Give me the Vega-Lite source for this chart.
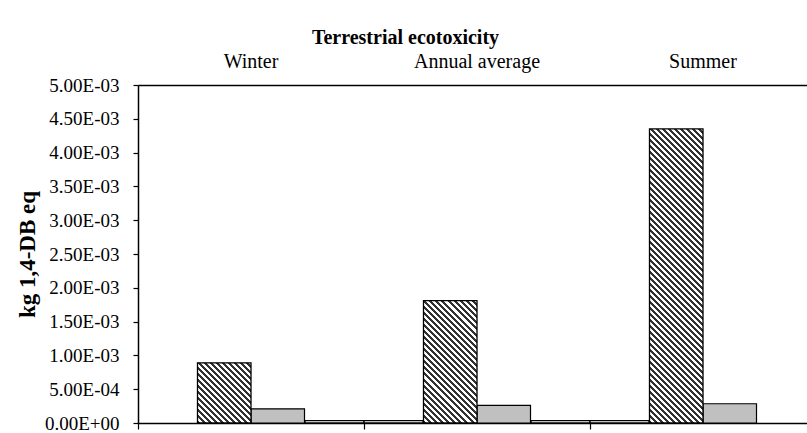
{
"$schema": "https://vega.github.io/schema/vega-lite/v6.json",
"width": 669,
"height": 338,
"autosize": {"type": "none"},
"padding": {"left": 138, "top": 85, "right": 0, "bottom": 10},
"background": "white",
"config": {"view": {"stroke": null}, "font": "Liberation Serif"},
"title": {"text": "Terrestrial ecotoxicity", "font": "Liberation Serif", "fontSize": 20, "fontWeight": "bold", "color": "black", "anchor": "middle", "frame": "group", "dx": -67, "offset": 3},
"datasets": {
"impact": [
{"season": "Winter", "series": "A", "kg": 0},
{"season": "Winter", "series": "B", "kg": 0.00089},
{"season": "Winter", "series": "C", "kg": 0.00021},
{"season": "Winter", "series": "D", "kg": 0.000035},
{"season": "Annual average", "series": "A", "kg": 0.000035},
{"season": "Annual average", "series": "B", "kg": 0.00181},
{"season": "Annual average", "series": "C", "kg": 0.00026},
{"season": "Annual average", "series": "D", "kg": 0.000035},
{"season": "Summer", "series": "A", "kg": 0.000035},
{"season": "Summer", "series": "B", "kg": 0.00435},
{"season": "Summer", "series": "C", "kg": 0.000285},
{"season": "Summer", "series": "D", "kg": 0}
]
},
"data": {"name": "impact"},
"resolve": {"scale": {"xOffset": "independent"}, "axis": {"x": "independent"}},
"encoding": {
"y": {"field": "kg", "type": "quantitative", "scale": {"domain": [0, 0.005], "nice": false, "zero": true},
"axis": {"title": "kg 1,4-DB eq", "titleFont": "Liberation Serif", "titleFontSize": 23, "titleFontWeight": "bold", "titleColor": "black", "titleX": -111, "titleY": 169, "titleAngle": -90, "titleAlign": "center", "titleBaseline": "middle",
"values": [0, 0.0005, 0.001, 0.0015, 0.002, 0.0025, 0.003, 0.0035, 0.004, 0.0045, 0.005],
"labelExpr": "datum.value == 0 ? '0.00E+00' : replace(upper(format(datum.value, '.2e')), 'E-', 'E-0')",
"labelFont": "Liberation Serif", "labelFontSize": 19, "labelColor": "black", "labelPadding": 14, "labelFlush": false, "labelOverlap": false,
"tickSize": 5, "tickColor": "black", "tickWidth": 1.2, "domainColor": "black", "domainWidth": 1.5, "grid": false}}
},
"layer": [
{
"transform": [{"filter": "datum.series === 'C'"}],
"mark": {"type": "bar", "fill": "#c0c0c0", "stroke": "black", "strokeWidth": 1.2},
"encoding": {
"x": {"field": "season", "type": "nominal", "sort": ["Winter", "Annual average", "Summer"], "scale": {"range": [0, 678], "paddingInner": 0, "paddingOuter": 0},
"axis": {"orient": "top", "title": null, "ticks": false, "tickSize": 0, "labelPadding": 18, "labelFontSize": 20, "labelFont": "Liberation Serif", "labelColor": "black", "labelAngle": 0, "labelBaseline": "alphabetic", "domainColor": "black", "domainWidth": 1.5}},
"xOffset": {"field": "series", "scale": {"domain": ["A", "B", "C", "D"], "paddingInner": 0, "paddingOuter": 0.112}}
}
},
{
"transform": [{"filter": "datum.series === 'B' && datum.season === 'Winter'"}],
"mark": {"type": "bar", "stroke": "black", "strokeWidth": 1.3, "fill": {"gradient": "linear", "x1": 0, "y1": 1, "x2": 0.9382, "y2": -0.055, "stops": [
{"offset":0,"color":"#333"},
{"offset":0.0263,"color":"#333"},{"offset":0.0263,"color":"#fff"},
{"offset":0.0526,"color":"#fff"},{"offset":0.0526,"color":"#333"},
{"offset":0.0789,"color":"#333"},{"offset":0.0789,"color":"#fff"},
{"offset":0.1053,"color":"#fff"},{"offset":0.1053,"color":"#333"},
{"offset":0.1316,"color":"#333"},{"offset":0.1316,"color":"#fff"},
{"offset":0.1579,"color":"#fff"},{"offset":0.1579,"color":"#333"},
{"offset":0.1842,"color":"#333"},{"offset":0.1842,"color":"#fff"},
{"offset":0.2105,"color":"#fff"},{"offset":0.2105,"color":"#333"},
{"offset":0.2368,"color":"#333"},{"offset":0.2368,"color":"#fff"},
{"offset":0.2632,"color":"#fff"},{"offset":0.2632,"color":"#333"},
{"offset":0.2895,"color":"#333"},{"offset":0.2895,"color":"#fff"},
{"offset":0.3158,"color":"#fff"},{"offset":0.3158,"color":"#333"},
{"offset":0.3421,"color":"#333"},{"offset":0.3421,"color":"#fff"},
{"offset":0.3684,"color":"#fff"},{"offset":0.3684,"color":"#333"},
{"offset":0.3947,"color":"#333"},{"offset":0.3947,"color":"#fff"},
{"offset":0.4211,"color":"#fff"},{"offset":0.4211,"color":"#333"},
{"offset":0.4474,"color":"#333"},{"offset":0.4474,"color":"#fff"},
{"offset":0.4737,"color":"#fff"},{"offset":0.4737,"color":"#333"},
{"offset":0.5,"color":"#333"},{"offset":0.5,"color":"#fff"},
{"offset":0.5263,"color":"#fff"},{"offset":0.5263,"color":"#333"},
{"offset":0.5526,"color":"#333"},{"offset":0.5526,"color":"#fff"},
{"offset":0.5789,"color":"#fff"},{"offset":0.5789,"color":"#333"},
{"offset":0.6053,"color":"#333"},{"offset":0.6053,"color":"#fff"},
{"offset":0.6316,"color":"#fff"},{"offset":0.6316,"color":"#333"},
{"offset":0.6579,"color":"#333"},{"offset":0.6579,"color":"#fff"},
{"offset":0.6842,"color":"#fff"},{"offset":0.6842,"color":"#333"},
{"offset":0.7105,"color":"#333"},{"offset":0.7105,"color":"#fff"},
{"offset":0.7368,"color":"#fff"},{"offset":0.7368,"color":"#333"},
{"offset":0.7632,"color":"#333"},{"offset":0.7632,"color":"#fff"},
{"offset":0.7895,"color":"#fff"},{"offset":0.7895,"color":"#333"},
{"offset":0.8158,"color":"#333"},{"offset":0.8158,"color":"#fff"},
{"offset":0.8421,"color":"#fff"},{"offset":0.8421,"color":"#333"},
{"offset":0.8684,"color":"#333"},{"offset":0.8684,"color":"#fff"},
{"offset":0.8947,"color":"#fff"},{"offset":0.8947,"color":"#333"},
{"offset":0.9211,"color":"#333"},{"offset":0.9211,"color":"#fff"},
{"offset":0.9474,"color":"#fff"},{"offset":0.9474,"color":"#333"},
{"offset":0.9737,"color":"#333"},{"offset":0.9737,"color":"#fff"},
{"offset":1,"color":"#fff"}
]}},
"encoding": {
"x": {"field": "season", "type": "nominal", "sort": ["Winter", "Annual average", "Summer"], "scale": {"range": [0, 678], "paddingInner": 0, "paddingOuter": 0}, "axis": null},
"xOffset": {"field": "series", "scale": {"domain": ["A", "B", "C", "D"], "paddingInner": 0, "paddingOuter": 0.112}}
}
},
{
"transform": [{"filter": "datum.series === 'B' && datum.season === 'Annual average'"}],
"mark": {"type": "bar", "stroke": "black", "strokeWidth": 1.3, "fill": {"gradient": "linear", "x1": 0, "y1": 1, "x2": 0.52756, "y2": -0.20658, "stops": [
{"offset":0,"color":"#333"},
{"offset":0.0172,"color":"#333"},{"offset":0.0172,"color":"#fff"},
{"offset":0.0345,"color":"#fff"},{"offset":0.0345,"color":"#333"},
{"offset":0.0517,"color":"#333"},{"offset":0.0517,"color":"#fff"},
{"offset":0.0690,"color":"#fff"},{"offset":0.0690,"color":"#333"},
{"offset":0.0862,"color":"#333"},{"offset":0.0862,"color":"#fff"},
{"offset":0.1034,"color":"#fff"},{"offset":0.1034,"color":"#333"},
{"offset":0.1207,"color":"#333"},{"offset":0.1207,"color":"#fff"},
{"offset":0.1379,"color":"#fff"},{"offset":0.1379,"color":"#333"},
{"offset":0.1552,"color":"#333"},{"offset":0.1552,"color":"#fff"},
{"offset":0.1724,"color":"#fff"},{"offset":0.1724,"color":"#333"},
{"offset":0.1897,"color":"#333"},{"offset":0.1897,"color":"#fff"},
{"offset":0.2069,"color":"#fff"},{"offset":0.2069,"color":"#333"},
{"offset":0.2241,"color":"#333"},{"offset":0.2241,"color":"#fff"},
{"offset":0.2414,"color":"#fff"},{"offset":0.2414,"color":"#333"},
{"offset":0.2586,"color":"#333"},{"offset":0.2586,"color":"#fff"},
{"offset":0.2759,"color":"#fff"},{"offset":0.2759,"color":"#333"},
{"offset":0.2931,"color":"#333"},{"offset":0.2931,"color":"#fff"},
{"offset":0.3103,"color":"#fff"},{"offset":0.3103,"color":"#333"},
{"offset":0.3276,"color":"#333"},{"offset":0.3276,"color":"#fff"},
{"offset":0.3448,"color":"#fff"},{"offset":0.3448,"color":"#333"},
{"offset":0.3621,"color":"#333"},{"offset":0.3621,"color":"#fff"},
{"offset":0.3793,"color":"#fff"},{"offset":0.3793,"color":"#333"},
{"offset":0.3966,"color":"#333"},{"offset":0.3966,"color":"#fff"},
{"offset":0.4138,"color":"#fff"},{"offset":0.4138,"color":"#333"},
{"offset":0.4310,"color":"#333"},{"offset":0.4310,"color":"#fff"},
{"offset":0.4483,"color":"#fff"},{"offset":0.4483,"color":"#333"},
{"offset":0.4655,"color":"#333"},{"offset":0.4655,"color":"#fff"},
{"offset":0.4828,"color":"#fff"},{"offset":0.4828,"color":"#333"},
{"offset":0.5,"color":"#333"},{"offset":0.5,"color":"#fff"},
{"offset":0.5172,"color":"#fff"},{"offset":0.5172,"color":"#333"},
{"offset":0.5345,"color":"#333"},{"offset":0.5345,"color":"#fff"},
{"offset":0.5517,"color":"#fff"},{"offset":0.5517,"color":"#333"},
{"offset":0.5690,"color":"#333"},{"offset":0.5690,"color":"#fff"},
{"offset":0.5862,"color":"#fff"},{"offset":0.5862,"color":"#333"},
{"offset":0.6034,"color":"#333"},{"offset":0.6034,"color":"#fff"},
{"offset":0.6207,"color":"#fff"},{"offset":0.6207,"color":"#333"},
{"offset":0.6379,"color":"#333"},{"offset":0.6379,"color":"#fff"},
{"offset":0.6552,"color":"#fff"},{"offset":0.6552,"color":"#333"},
{"offset":0.6724,"color":"#333"},{"offset":0.6724,"color":"#fff"},
{"offset":0.6897,"color":"#fff"},{"offset":0.6897,"color":"#333"},
{"offset":0.7069,"color":"#333"},{"offset":0.7069,"color":"#fff"},
{"offset":0.7241,"color":"#fff"},{"offset":0.7241,"color":"#333"},
{"offset":0.7414,"color":"#333"},{"offset":0.7414,"color":"#fff"},
{"offset":0.7586,"color":"#fff"},{"offset":0.7586,"color":"#333"},
{"offset":0.7759,"color":"#333"},{"offset":0.7759,"color":"#fff"},
{"offset":0.7931,"color":"#fff"},{"offset":0.7931,"color":"#333"},
{"offset":0.8103,"color":"#333"},{"offset":0.8103,"color":"#fff"},
{"offset":0.8276,"color":"#fff"},{"offset":0.8276,"color":"#333"},
{"offset":0.8448,"color":"#333"},{"offset":0.8448,"color":"#fff"},
{"offset":0.8621,"color":"#fff"},{"offset":0.8621,"color":"#333"},
{"offset":0.8793,"color":"#333"},{"offset":0.8793,"color":"#fff"},
{"offset":0.8966,"color":"#fff"},{"offset":0.8966,"color":"#333"},
{"offset":0.9138,"color":"#333"},{"offset":0.9138,"color":"#fff"},
{"offset":0.9310,"color":"#fff"},{"offset":0.9310,"color":"#333"},
{"offset":0.9483,"color":"#333"},{"offset":0.9483,"color":"#fff"},
{"offset":0.9655,"color":"#fff"},{"offset":0.9655,"color":"#333"},
{"offset":0.9828,"color":"#333"},{"offset":0.9828,"color":"#fff"},
{"offset":1,"color":"#fff"}
]}},
"encoding": {
"x": {"field": "season", "type": "nominal", "sort": ["Winter", "Annual average", "Summer"], "scale": {"range": [0, 678], "paddingInner": 0, "paddingOuter": 0}, "axis": null},
"xOffset": {"field": "series", "scale": {"domain": ["A", "B", "C", "D"], "paddingInner": 0, "paddingOuter": 0.112}}
}
},
{
"transform": [{"filter": "datum.series === 'B' && datum.season === 'Summer'"}],
"mark": {"type": "bar", "stroke": "black", "strokeWidth": 1.3, "fill": {"gradient": "linear", "x1": 0, "y1": 1, "x2": 0.20815, "y2": -0.1441, "stops": [
{"offset":0,"color":"#333"},
{"offset":0.0086,"color":"#333"},{"offset":0.0086,"color":"#fff"},
{"offset":0.0172,"color":"#fff"},{"offset":0.0172,"color":"#333"},
{"offset":0.0259,"color":"#333"},{"offset":0.0259,"color":"#fff"},
{"offset":0.0345,"color":"#fff"},{"offset":0.0345,"color":"#333"},
{"offset":0.0431,"color":"#333"},{"offset":0.0431,"color":"#fff"},
{"offset":0.0517,"color":"#fff"},{"offset":0.0517,"color":"#333"},
{"offset":0.0603,"color":"#333"},{"offset":0.0603,"color":"#fff"},
{"offset":0.0690,"color":"#fff"},{"offset":0.0690,"color":"#333"},
{"offset":0.0776,"color":"#333"},{"offset":0.0776,"color":"#fff"},
{"offset":0.0862,"color":"#fff"},{"offset":0.0862,"color":"#333"},
{"offset":0.0948,"color":"#333"},{"offset":0.0948,"color":"#fff"},
{"offset":0.1034,"color":"#fff"},{"offset":0.1034,"color":"#333"},
{"offset":0.1121,"color":"#333"},{"offset":0.1121,"color":"#fff"},
{"offset":0.1207,"color":"#fff"},{"offset":0.1207,"color":"#333"},
{"offset":0.1293,"color":"#333"},{"offset":0.1293,"color":"#fff"},
{"offset":0.1379,"color":"#fff"},{"offset":0.1379,"color":"#333"},
{"offset":0.1466,"color":"#333"},{"offset":0.1466,"color":"#fff"},
{"offset":0.1552,"color":"#fff"},{"offset":0.1552,"color":"#333"},
{"offset":0.1638,"color":"#333"},{"offset":0.1638,"color":"#fff"},
{"offset":0.1724,"color":"#fff"},{"offset":0.1724,"color":"#333"},
{"offset":0.1810,"color":"#333"},{"offset":0.1810,"color":"#fff"},
{"offset":0.1897,"color":"#fff"},{"offset":0.1897,"color":"#333"},
{"offset":0.1983,"color":"#333"},{"offset":0.1983,"color":"#fff"},
{"offset":0.2069,"color":"#fff"},{"offset":0.2069,"color":"#333"},
{"offset":0.2155,"color":"#333"},{"offset":0.2155,"color":"#fff"},
{"offset":0.2241,"color":"#fff"},{"offset":0.2241,"color":"#333"},
{"offset":0.2328,"color":"#333"},{"offset":0.2328,"color":"#fff"},
{"offset":0.2414,"color":"#fff"},{"offset":0.2414,"color":"#333"},
{"offset":0.25,"color":"#333"},{"offset":0.25,"color":"#fff"},
{"offset":0.2586,"color":"#fff"},{"offset":0.2586,"color":"#333"},
{"offset":0.2672,"color":"#333"},{"offset":0.2672,"color":"#fff"},
{"offset":0.2759,"color":"#fff"},{"offset":0.2759,"color":"#333"},
{"offset":0.2845,"color":"#333"},{"offset":0.2845,"color":"#fff"},
{"offset":0.2931,"color":"#fff"},{"offset":0.2931,"color":"#333"},
{"offset":0.3017,"color":"#333"},{"offset":0.3017,"color":"#fff"},
{"offset":0.3103,"color":"#fff"},{"offset":0.3103,"color":"#333"},
{"offset":0.3190,"color":"#333"},{"offset":0.3190,"color":"#fff"},
{"offset":0.3276,"color":"#fff"},{"offset":0.3276,"color":"#333"},
{"offset":0.3362,"color":"#333"},{"offset":0.3362,"color":"#fff"},
{"offset":0.3448,"color":"#fff"},{"offset":0.3448,"color":"#333"},
{"offset":0.3534,"color":"#333"},{"offset":0.3534,"color":"#fff"},
{"offset":0.3621,"color":"#fff"},{"offset":0.3621,"color":"#333"},
{"offset":0.3707,"color":"#333"},{"offset":0.3707,"color":"#fff"},
{"offset":0.3793,"color":"#fff"},{"offset":0.3793,"color":"#333"},
{"offset":0.3879,"color":"#333"},{"offset":0.3879,"color":"#fff"},
{"offset":0.3966,"color":"#fff"},{"offset":0.3966,"color":"#333"},
{"offset":0.4052,"color":"#333"},{"offset":0.4052,"color":"#fff"},
{"offset":0.4138,"color":"#fff"},{"offset":0.4138,"color":"#333"},
{"offset":0.4224,"color":"#333"},{"offset":0.4224,"color":"#fff"},
{"offset":0.4310,"color":"#fff"},{"offset":0.4310,"color":"#333"},
{"offset":0.4397,"color":"#333"},{"offset":0.4397,"color":"#fff"},
{"offset":0.4483,"color":"#fff"},{"offset":0.4483,"color":"#333"},
{"offset":0.4569,"color":"#333"},{"offset":0.4569,"color":"#fff"},
{"offset":0.4655,"color":"#fff"},{"offset":0.4655,"color":"#333"},
{"offset":0.4741,"color":"#333"},{"offset":0.4741,"color":"#fff"},
{"offset":0.4828,"color":"#fff"},{"offset":0.4828,"color":"#333"},
{"offset":0.4914,"color":"#333"},{"offset":0.4914,"color":"#fff"},
{"offset":0.5,"color":"#fff"},{"offset":0.5,"color":"#333"},
{"offset":0.5086,"color":"#333"},{"offset":0.5086,"color":"#fff"},
{"offset":0.5172,"color":"#fff"},{"offset":0.5172,"color":"#333"},
{"offset":0.5259,"color":"#333"},{"offset":0.5259,"color":"#fff"},
{"offset":0.5345,"color":"#fff"},{"offset":0.5345,"color":"#333"},
{"offset":0.5431,"color":"#333"},{"offset":0.5431,"color":"#fff"},
{"offset":0.5517,"color":"#fff"},{"offset":0.5517,"color":"#333"},
{"offset":0.5603,"color":"#333"},{"offset":0.5603,"color":"#fff"},
{"offset":0.5690,"color":"#fff"},{"offset":0.5690,"color":"#333"},
{"offset":0.5776,"color":"#333"},{"offset":0.5776,"color":"#fff"},
{"offset":0.5862,"color":"#fff"},{"offset":0.5862,"color":"#333"},
{"offset":0.5948,"color":"#333"},{"offset":0.5948,"color":"#fff"},
{"offset":0.6034,"color":"#fff"},{"offset":0.6034,"color":"#333"},
{"offset":0.6121,"color":"#333"},{"offset":0.6121,"color":"#fff"},
{"offset":0.6207,"color":"#fff"},{"offset":0.6207,"color":"#333"},
{"offset":0.6293,"color":"#333"},{"offset":0.6293,"color":"#fff"},
{"offset":0.6379,"color":"#fff"},{"offset":0.6379,"color":"#333"},
{"offset":0.6466,"color":"#333"},{"offset":0.6466,"color":"#fff"},
{"offset":0.6552,"color":"#fff"},{"offset":0.6552,"color":"#333"},
{"offset":0.6638,"color":"#333"},{"offset":0.6638,"color":"#fff"},
{"offset":0.6724,"color":"#fff"},{"offset":0.6724,"color":"#333"},
{"offset":0.6810,"color":"#333"},{"offset":0.6810,"color":"#fff"},
{"offset":0.6897,"color":"#fff"},{"offset":0.6897,"color":"#333"},
{"offset":0.6983,"color":"#333"},{"offset":0.6983,"color":"#fff"},
{"offset":0.7069,"color":"#fff"},{"offset":0.7069,"color":"#333"},
{"offset":0.7155,"color":"#333"},{"offset":0.7155,"color":"#fff"},
{"offset":0.7241,"color":"#fff"},{"offset":0.7241,"color":"#333"},
{"offset":0.7328,"color":"#333"},{"offset":0.7328,"color":"#fff"},
{"offset":0.7414,"color":"#fff"},{"offset":0.7414,"color":"#333"},
{"offset":0.75,"color":"#333"},{"offset":0.75,"color":"#fff"},
{"offset":0.7586,"color":"#fff"},{"offset":0.7586,"color":"#333"},
{"offset":0.7672,"color":"#333"},{"offset":0.7672,"color":"#fff"},
{"offset":0.7759,"color":"#fff"},{"offset":0.7759,"color":"#333"},
{"offset":0.7845,"color":"#333"},{"offset":0.7845,"color":"#fff"},
{"offset":0.7931,"color":"#fff"},{"offset":0.7931,"color":"#333"},
{"offset":0.8017,"color":"#333"},{"offset":0.8017,"color":"#fff"},
{"offset":0.8103,"color":"#fff"},{"offset":0.8103,"color":"#333"},
{"offset":0.8190,"color":"#333"},{"offset":0.8190,"color":"#fff"},
{"offset":0.8276,"color":"#fff"},{"offset":0.8276,"color":"#333"},
{"offset":0.8362,"color":"#333"},{"offset":0.8362,"color":"#fff"},
{"offset":0.8448,"color":"#fff"},{"offset":0.8448,"color":"#333"},
{"offset":0.8534,"color":"#333"},{"offset":0.8534,"color":"#fff"},
{"offset":0.8621,"color":"#fff"},{"offset":0.8621,"color":"#333"},
{"offset":0.8707,"color":"#333"},{"offset":0.8707,"color":"#fff"},
{"offset":0.8793,"color":"#fff"},{"offset":0.8793,"color":"#333"},
{"offset":0.8879,"color":"#333"},{"offset":0.8879,"color":"#fff"},
{"offset":0.8966,"color":"#fff"},{"offset":0.8966,"color":"#333"},
{"offset":0.9052,"color":"#333"},{"offset":0.9052,"color":"#fff"},
{"offset":0.9138,"color":"#fff"},{"offset":0.9138,"color":"#333"},
{"offset":0.9224,"color":"#333"},{"offset":0.9224,"color":"#fff"},
{"offset":0.9310,"color":"#fff"},{"offset":0.9310,"color":"#333"},
{"offset":0.9397,"color":"#333"},{"offset":0.9397,"color":"#fff"},
{"offset":0.9483,"color":"#fff"},{"offset":0.9483,"color":"#333"},
{"offset":0.9569,"color":"#333"},{"offset":0.9569,"color":"#fff"},
{"offset":0.9655,"color":"#fff"},{"offset":0.9655,"color":"#333"},
{"offset":0.9741,"color":"#333"},{"offset":0.9741,"color":"#fff"},
{"offset":0.9828,"color":"#fff"},{"offset":0.9828,"color":"#333"},
{"offset":0.9914,"color":"#333"},{"offset":0.9914,"color":"#fff"},
{"offset":1,"color":"#fff"}
]}},
"encoding": {
"x": {"field": "season", "type": "nominal", "sort": ["Winter", "Annual average", "Summer"], "scale": {"range": [0, 678], "paddingInner": 0, "paddingOuter": 0}, "axis": null},
"xOffset": {"field": "series", "scale": {"domain": ["A", "B", "C", "D"], "paddingInner": 0, "paddingOuter": 0.112}}
}
},
{
"transform": [{"filter": "(datum.series === 'A' || datum.series === 'D') && datum.kg > 0"}],
"mark": {"type": "bar", "fill": "white", "stroke": "black", "strokeWidth": 1.3},
"encoding": {
"x": {"field": "season", "type": "nominal", "sort": ["Winter", "Annual average", "Summer"], "scale": {"range": [0, 678], "paddingInner": 0, "paddingOuter": 0},
"axis": {"orient": "bottom", "title": null, "labels": false, "ticks": true, "tickSize": 6, "tickColor": "black", "tickWidth": 1.2, "bandPosition": 0, "domainColor": "black", "domainWidth": 1.5}},
"xOffset": {"field": "series", "scale": {"domain": ["A", "D"], "paddingInner": 0.647, "paddingOuter": 0}}
}
}
]
}
